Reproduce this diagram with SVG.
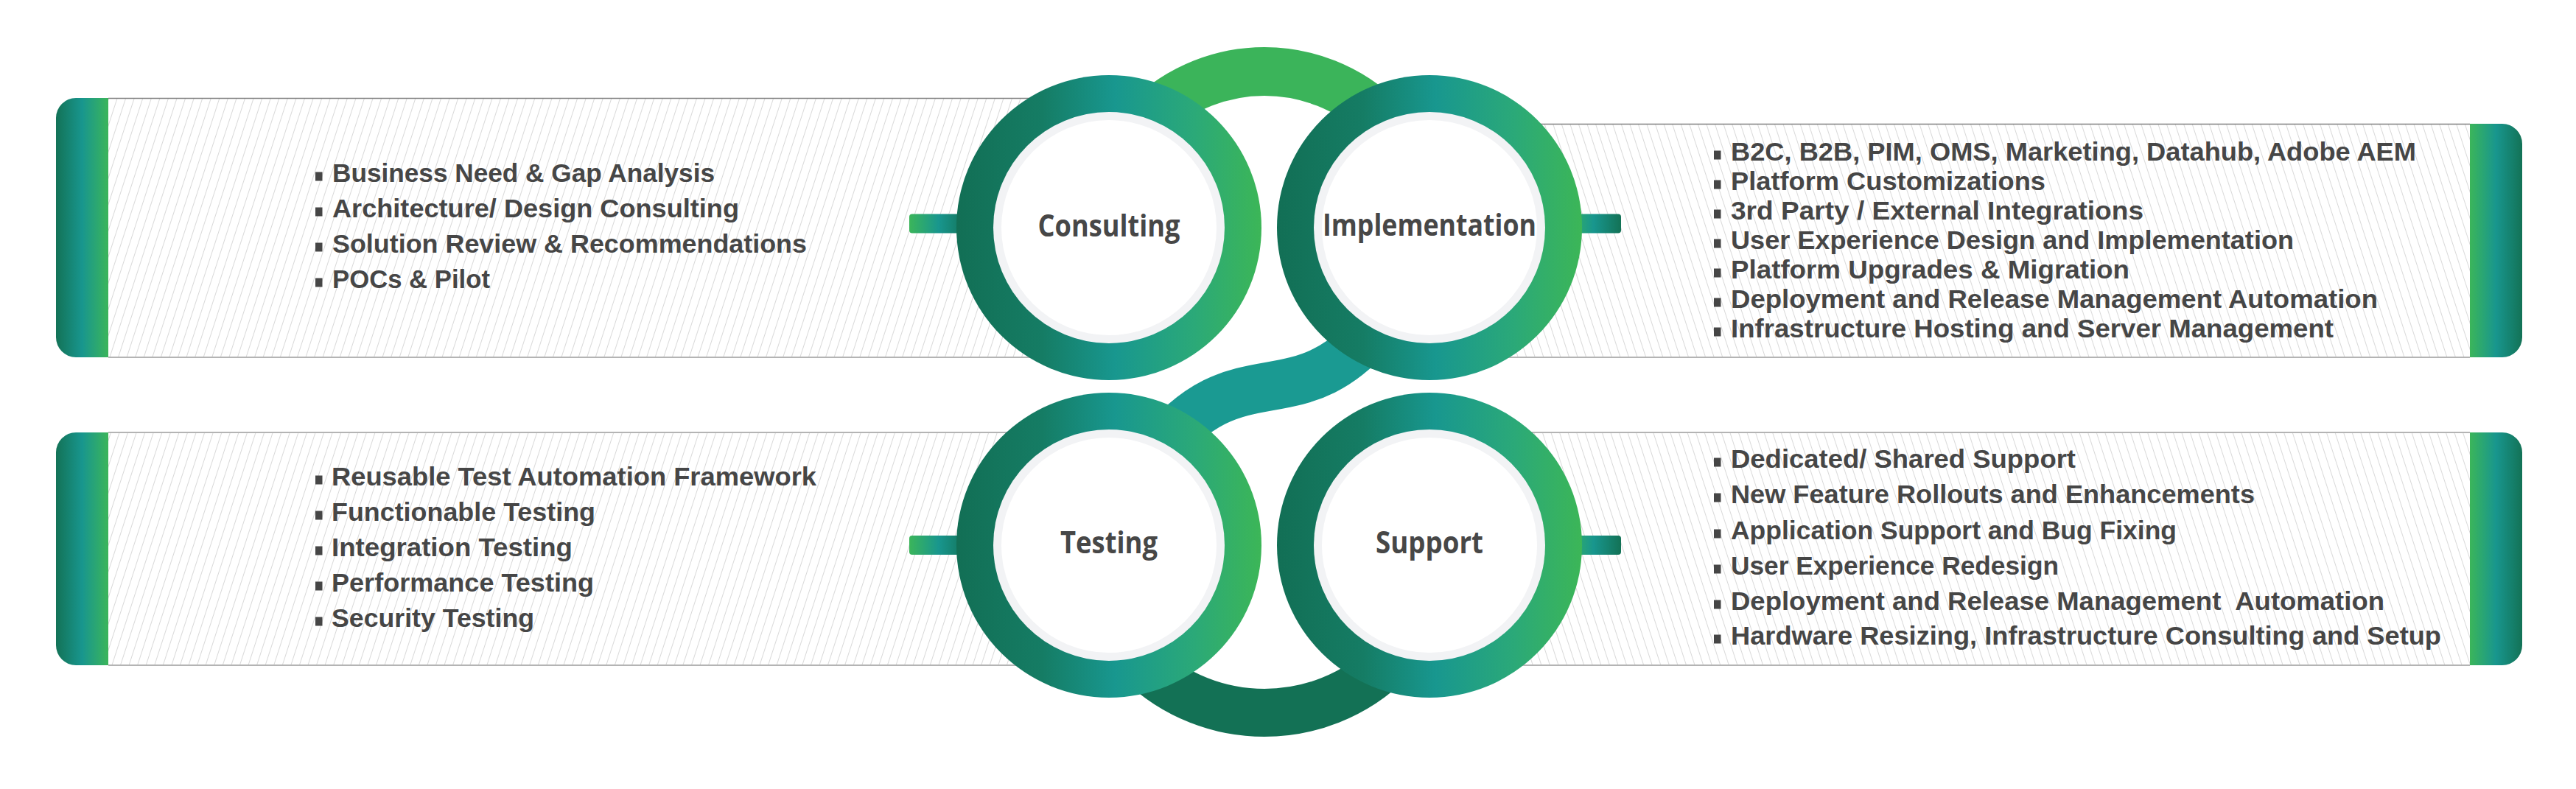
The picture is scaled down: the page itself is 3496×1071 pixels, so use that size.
<svg xmlns="http://www.w3.org/2000/svg" width="3496" height="1071" viewBox="0 0 3496 1071">
<defs>
<style>
.lt{font-family:"Liberation Sans",Arial,sans-serif;font-weight:700;font-size:35px;fill:#464646}
.lbl{font-family:"Open Sans","Liberation Sans",sans-serif;font-weight:700;font-size:42px;fill:#474747;text-anchor:middle}
.bul{fill:#464646}
.bt{stroke:#808080;stroke-width:1.6;fill:none}
.bb{stroke:#b4b4b4;stroke-width:2.2;fill:none}
.hl{stroke:#d9d9d9;stroke-width:1}
.outer{fill:url(#ringG)}
.band{fill:#f2f3f5}
.inner{fill:#ffffff}
</style>
<linearGradient id="ringG" x1="0" y1="0" x2="1" y2="0">
<stop offset="0" stop-color="#126f55"/>
<stop offset="0.28" stop-color="#157c64"/>
<stop offset="0.52" stop-color="#18978f"/>
<stop offset="0.78" stop-color="#2ba978"/>
<stop offset="1" stop-color="#3cb657"/>
</linearGradient>
<linearGradient id="barL" x1="0" y1="0" x2="1" y2="0">
<stop offset="0" stop-color="#137256"/>
<stop offset="0.5" stop-color="#18968e"/>
<stop offset="1" stop-color="#3bb55a"/>
</linearGradient>
<linearGradient id="barR" x1="0" y1="0" x2="1" y2="0">
<stop offset="0" stop-color="#3bb55a"/>
<stop offset="0.5" stop-color="#18968e"/>
<stop offset="1" stop-color="#137256"/>
</linearGradient>
<pattern id="hatchL" patternUnits="userSpaceOnUse" width="11" height="11" patternTransform="rotate(18)">
<line class="hl" x1="5.5" y1="-1" x2="5.5" y2="12"/>
</pattern>
<pattern id="hatchR" patternUnits="userSpaceOnUse" width="11" height="11" patternTransform="rotate(-18)">
<line class="hl" x1="5.5" y1="-1" x2="5.5" y2="12"/>
</pattern>
</defs>
<rect width="3496" height="1071" fill="#ffffff"/>

<g id="panel-consulting">
<rect x="147" y="133" width="1360" height="352" fill="url(#hatchL)"/>
<line class="bt" x1="147" y1="133.5" x2="1507" y2="133.5"/>
<line class="bb" x1="147" y1="485" x2="1507" y2="485"/>
<path d="M147,133 H103 A27,27 0 0 0 76,160 V458 A27,27 0 0 0 103,485 H147 Z" fill="url(#barL)"/>
<rect class="bul" x="428" y="233.5" width="9.5" height="12"/>
<rect class="bul" x="428" y="281.5" width="9.5" height="12"/>
<rect class="bul" x="428" y="329.5" width="9.5" height="12"/>
<rect class="bul" x="428" y="377.5" width="9.5" height="12"/>
<text class="lt" x="451" y="247" textLength="519" lengthAdjust="spacingAndGlyphs">Business Need &amp; Gap Analysis</text>
<text class="lt" x="451" y="295" textLength="552" lengthAdjust="spacingAndGlyphs">Architecture/ Design Consulting</text>
<text class="lt" x="451" y="343" textLength="644" lengthAdjust="spacingAndGlyphs">Solution Review &amp; Recommendations</text>
<text class="lt" x="451" y="391" textLength="214" lengthAdjust="spacingAndGlyphs">POCs &amp; Pilot</text>
</g>

<g id="panel-implementation">
<rect x="1940" y="168" width="1412" height="317" fill="url(#hatchR)"/>
<line class="bt" x1="1940" y1="168.5" x2="3352" y2="168.5"/>
<line class="bb" x1="1940" y1="485" x2="3352" y2="485"/>
<path d="M3352,168 H3396 A27,27 0 0 1 3423,195 V458 A27,27 0 0 1 3396,485 H3352 Z" fill="url(#barR)"/>
<rect class="bul" x="2326" y="204.5" width="9.5" height="12"/>
<rect class="bul" x="2326" y="244.5" width="9.5" height="12"/>
<rect class="bul" x="2326" y="284.5" width="9.5" height="12"/>
<rect class="bul" x="2326" y="324.5" width="9.5" height="12"/>
<rect class="bul" x="2326" y="364.5" width="9.5" height="12"/>
<rect class="bul" x="2326" y="404.5" width="9.5" height="12"/>
<rect class="bul" x="2326" y="444.5" width="9.5" height="12"/>
<text class="lt" x="2349" y="218" textLength="930" lengthAdjust="spacingAndGlyphs">B2C, B2B, PIM, OMS, Marketing, Datahub, Adobe AEM</text>
<text class="lt" x="2349" y="258" textLength="427" lengthAdjust="spacingAndGlyphs">Platform Customizations</text>
<text class="lt" x="2349" y="298" textLength="560" lengthAdjust="spacingAndGlyphs">3rd Party / External Integrations</text>
<text class="lt" x="2349" y="338" textLength="764" lengthAdjust="spacingAndGlyphs">User Experience Design and Implementation</text>
<text class="lt" x="2349" y="378" textLength="541" lengthAdjust="spacingAndGlyphs">Platform Upgrades &amp; Migration</text>
<text class="lt" x="2349" y="418" textLength="878" lengthAdjust="spacingAndGlyphs">Deployment and Release Management Automation</text>
<text class="lt" x="2349" y="458" textLength="818" lengthAdjust="spacingAndGlyphs">Infrastructure Hosting and Server Management</text>
</g>

<g id="panel-testing">
<rect x="147" y="587" width="1360" height="316" fill="url(#hatchL)"/>
<line class="bb" x1="147" y1="587" x2="1507" y2="587"/>
<line class="bb" x1="147" y1="903" x2="1507" y2="903"/>
<path d="M147,587 H103 A27,27 0 0 0 76,614 V876 A27,27 0 0 0 103,903 H147 Z" fill="url(#barL)"/>
<rect class="bul" x="428" y="645.5" width="9.5" height="12"/>
<rect class="bul" x="428" y="693.5" width="9.5" height="12"/>
<rect class="bul" x="428" y="741.5" width="9.5" height="12"/>
<rect class="bul" x="428" y="789.5" width="9.5" height="12"/>
<rect class="bul" x="428" y="837.5" width="9.5" height="12"/>
<text class="lt" x="450" y="659" textLength="658" lengthAdjust="spacingAndGlyphs">Reusable Test Automation Framework</text>
<text class="lt" x="450" y="707" textLength="358" lengthAdjust="spacingAndGlyphs">Functionable Testing</text>
<text class="lt" x="450" y="755" textLength="327" lengthAdjust="spacingAndGlyphs">Integration Testing</text>
<text class="lt" x="450" y="803" textLength="356" lengthAdjust="spacingAndGlyphs">Performance Testing</text>
<text class="lt" x="450" y="851" textLength="275" lengthAdjust="spacingAndGlyphs">Security Testing</text>
</g>

<g id="panel-support">
<rect x="1940" y="587" width="1412" height="316" fill="url(#hatchR)"/>
<line class="bb" x1="1940" y1="587" x2="3352" y2="587"/>
<line class="bb" x1="1940" y1="903" x2="3352" y2="903"/>
<path d="M3352,587 H3396 A27,27 0 0 1 3423,614 V876 A27,27 0 0 1 3396,903 H3352 Z" fill="url(#barR)"/>
<rect class="bul" x="2326" y="621.5" width="9.5" height="12"/>
<rect class="bul" x="2326" y="669.5" width="9.5" height="12"/>
<rect class="bul" x="2326" y="718.5" width="9.5" height="12"/>
<rect class="bul" x="2326" y="766.5" width="9.5" height="12"/>
<rect class="bul" x="2326" y="814.5" width="9.5" height="12"/>
<rect class="bul" x="2326" y="861.5" width="9.5" height="12"/>
<text class="lt" x="2349" y="635" textLength="468" lengthAdjust="spacingAndGlyphs">Dedicated/ Shared Support</text>
<text class="lt" x="2349" y="683" textLength="711" lengthAdjust="spacingAndGlyphs">New Feature Rollouts and Enhancements</text>
<text class="lt" x="2349" y="732" textLength="605" lengthAdjust="spacingAndGlyphs">Application Support and Bug Fixing</text>
<text class="lt" x="2349" y="780" textLength="445" lengthAdjust="spacingAndGlyphs">User Experience Redesign</text>
<text class="lt" x="2349" y="828" textLength="887" lengthAdjust="spacingAndGlyphs" style="white-space:pre">Deployment and Release Management  Automation</text>
<text class="lt" x="2349" y="875" textLength="964" lengthAdjust="spacingAndGlyphs">Hardware Resizing, Infrastructure Consulting and Setup</text>
</g>

<g id="connectors">
<path d="M1489,324 A227,227 0 0 1 1943,324" fill="none" stroke="#3bb45a" stroke-width="66"/>
<path d="M1880,430 C1760,585 1685,464 1565,619" fill="none" stroke="#1a9a92" stroke-width="66"/>
<path d="M1473.5,725 A242.5,242.5 0 0 0 1958.5,725" fill="none" stroke="#137155" stroke-width="65"/>
<rect x="1234" y="290.5" width="80" height="26" rx="4" fill="url(#barR)"/>
<rect x="2125" y="290.5" width="75" height="26" rx="4" fill="url(#barR)"/>
<rect x="1234" y="727" width="80" height="26" rx="4" fill="url(#barR)"/>
<rect x="2125" y="727" width="75" height="26" rx="4" fill="url(#barR)"/>
</g>

<g id="node-consulting">
<circle class="outer" cx="1505" cy="309" r="207"/>
<circle class="band" cx="1505" cy="309" r="157"/>
<circle class="inner" cx="1505" cy="309" r="146"/>
<text class="lbl" x="1505" y="321" textLength="193" lengthAdjust="spacingAndGlyphs">Consulting</text>
</g>
<g id="node-implementation">
<circle class="outer" cx="1940" cy="309" r="207"/>
<circle class="band" cx="1940" cy="309" r="157"/>
<circle class="inner" cx="1940" cy="309" r="146"/>
<text class="lbl" x="1940" y="320" textLength="290" lengthAdjust="spacingAndGlyphs">Implementation</text>
</g>
<g id="node-testing">
<circle class="outer" cx="1505" cy="740" r="207"/>
<circle class="band" cx="1505" cy="740" r="157"/>
<circle class="inner" cx="1505" cy="740" r="146"/>
<text class="lbl" x="1505" y="751" textLength="132" lengthAdjust="spacingAndGlyphs">Testing</text>
</g>
<g id="node-support">
<circle class="outer" cx="1940" cy="740" r="207"/>
<circle class="band" cx="1940" cy="740" r="157"/>
<circle class="inner" cx="1940" cy="740" r="146"/>
<text class="lbl" x="1940" y="751" textLength="146" lengthAdjust="spacingAndGlyphs">Support</text>
</g>
</svg>
